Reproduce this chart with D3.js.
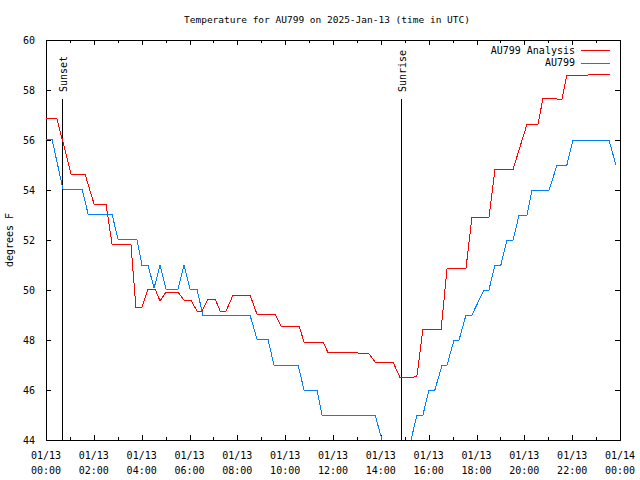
<!DOCTYPE html>
<html>
<head>
<meta charset="utf-8">
<script src="https://cdn.jsdelivr.net/npm/d3@7"></script>
<style>
  html, body { margin: 0; padding: 0; background: #fff; }
  svg { display: block; }
  text { font-family: "DejaVu Sans Mono", "Liberation Mono", monospace; font-size: 10px; fill: #000; }
</style>
</head>
<body>
<svg id="chart" width="640" height="480"></svg>
<script>
// ---- Data (hours since 2025-01-13 00:00 UTC, degrees F) ----
const analysisTimes = [0, 0.46, 1.05, 1.63, 2.01, 2.51, 2.76, 3.55, 3.76, 4.01, 4.26, 4.56, 4.77, 5.02, 5.52, 5.77,
  6.06, 6.31, 6.52, 6.77, 7.07, 7.28, 7.53, 7.82, 8.53, 8.82, 9.57, 9.83, 10.58, 10.79, 11.58, 11.79, 12.59,
  13.50, 13.76, 14.51, 14.80, 15.34, 15.51, 15.76, 16.52, 16.77, 17.56, 17.81, 18.52, 18.77, 19.53, 20.11,
  20.57, 20.78, 21.57, 21.78, 22.66, 23.58];
const analysisValues = [56.88, 56.84, 54.64, 54.64, 53.44, 53.44, 51.84, 51.84, 49.32, 49.32, 50.04, 50.04, 49.56, 49.92, 49.92, 49.6,
  49.6, 49.16, 49.16, 49.64, 49.64, 49.16, 49.16, 49.8, 49.8, 49.04, 49.04, 48.56, 48.56, 47.92, 47.92, 47.5, 47.5,
  47.46, 47.12, 47.12, 46.5, 46.5, 46.56, 48.43, 48.43, 50.87, 50.87, 52.9, 52.9, 54.83, 54.83, 56.63,
  56.63, 57.67, 57.63, 58.6, 58.6, 58.64];

const stationTimes = [0, 0.25, 0.71, 1.51, 1.76, 2.76, 3.01, 3.80, 4.01, 4.26, 4.52, 4.77, 5.02, 5.52, 5.77, 6.02,
  6.31, 6.56, 8.53, 8.82, 9.28, 9.53, 10.54, 10.79, 11.33, 11.54, 13.76, 14.05, 14.30, 15.01, 15.26, 15.51,
  15.76, 16.01, 16.26, 16.56, 16.77, 17.06, 17.27, 17.56, 17.81, 18.31, 18.52, 18.77, 19.02, 19.27, 19.53,
  19.78, 20.11, 20.32, 21.03, 21.37, 21.78, 22.03, 23.54, 23.83];
const stationValues = [56.03, 56.03, 54.04, 54.04, 53.04, 53.04, 52.03, 52.03, 51, 51, 50.08, 51, 50.04, 50.04, 51, 50.04,
  50.04, 49, 49, 48.04, 48.04, 47, 47, 46, 46, 45, 45, 44, 43, 43, 44, 45,
  45, 46, 46, 47, 47, 48, 48, 49, 49, 50, 50, 51, 51, 52, 52,
  53, 53, 54, 54, 55, 55, 56, 56, 55];

const seriesNames = ["AU799 Analysis", "AU799"];
const seriesColors = ["#ff0000", "#0080ff"];

const eventNames = ["Sunset", "Sunrise"];
const eventTimes = [0.71, 14.88];

const yTicks = [44, 46, 48, 50, 52, 54, 56, 58, 60];
const xTickHours = [0, 2, 4, 6, 8, 10, 12, 14, 16, 18, 20, 22, 24];
const xTickDates = ["01/13", "01/13", "01/13", "01/13", "01/13", "01/13", "01/13", "01/13", "01/13", "01/13", "01/13", "01/13", "01/14"];
const xTickTimes = ["00:00", "02:00", "04:00", "06:00", "08:00", "10:00", "12:00", "14:00", "16:00", "18:00", "20:00", "22:00", "00:00"];
const xMinorHours = d3.range(0, 25, 1);

const titleText = "Temperature for AU799 on 2025-Jan-13 (time in UTC)";
const yLabelText = "degrees F";

// ---- Layout ----
const L = 46, R = 620, T = 40, B = 440;
const svg = d3.select("#chart");
const x = d3.scaleLinear().domain([0, 24]).range([L, R]);
const y = d3.scaleLinear().domain([44, 60]).range([B, T]);

svg.append("defs").append("clipPath").attr("id", "plotclip")
  .append("rect").attr("x", L).attr("y", T).attr("width", R - L).attr("height", B - T);

// Title
svg.append("text").attr("x", 327).attr("y", 19).attr("text-anchor", "middle")
  .attr("dominant-baseline", "central").style("font-size", "9.5px").text(titleText);

// Y label
svg.append("text").attr("transform", "translate(9,240) rotate(-90)")
  .attr("text-anchor", "middle").attr("dominant-baseline", "central").text(yLabelText);

// Axes (ticks inward, mirrored)
const gAxes = svg.append("g").attr("shape-rendering", "crispEdges");
const leftAxis = d3.axisLeft(y).tickValues(yTicks).tickSize(-5).tickPadding(11).tickFormat(d3.format("d"));
const rightAxis = d3.axisRight(y).tickValues(yTicks).tickSize(-5).tickFormat("");
const bottomMinor = d3.axisBottom(x).tickValues(xMinorHours).tickSize(-3).tickFormat("");
const bottomMajor = d3.axisBottom(x).tickValues(xTickHours).tickSize(-5).tickFormat("");
const topMinor = d3.axisTop(x).tickValues(xMinorHours).tickSize(-3).tickFormat("");
const topMajor = d3.axisTop(x).tickValues(xTickHours).tickSize(-5).tickFormat("");

function styleAxis(g) {
  g.select(".domain").remove();
  g.selectAll(".tick line").attr("stroke", "#000");
  g.selectAll("text").attr("fill", "#000").style("font-family", "DejaVu Sans Mono, monospace").style("font-size", "10px");
}
gAxes.append("g").attr("transform", `translate(${L},0)`).call(leftAxis).call(styleAxis);
gAxes.append("g").attr("transform", `translate(${R},0)`).call(rightAxis).call(styleAxis);
gAxes.append("g").attr("transform", `translate(0,${B})`).call(bottomMinor).call(styleAxis);
gAxes.append("g").attr("transform", `translate(0,${B})`).call(bottomMajor).call(styleAxis);
gAxes.append("g").attr("transform", `translate(0,${T})`).call(topMinor).call(styleAxis);
gAxes.append("g").attr("transform", `translate(0,${T})`).call(topMajor).call(styleAxis);

// x tick labels (two lines)
const xl = svg.append("g");
xTickHours.forEach((h, i) => {
  xl.append("text").attr("x", x(h)).attr("y", 455).attr("text-anchor", "middle")
    .attr("dominant-baseline", "central").text(xTickDates[i]);
  xl.append("text").attr("x", x(h)).attr("y", 470).attr("text-anchor", "middle")
    .attr("dominant-baseline", "central").text(xTickTimes[i]);
});

// Frame
svg.append("rect").attr("x", L + 0.5).attr("y", T + 0.5).attr("width", R - L).attr("height", B - T)
  .attr("fill", "none").attr("stroke", "#000").attr("stroke-width", 1).attr("shape-rendering", "crispEdges");

// Sunset / Sunrise markers
const evTop = 57.64;
eventTimes.forEach((t, i) => {
  svg.append("line").attr("x1", x(t)).attr("x2", x(t)).attr("y1", y(evTop)).attr("y2", y(44))
    .attr("stroke", "#000").attr("stroke-width", 1).attr("shape-rendering", "crispEdges");
  svg.append("text").attr("transform", `translate(${x(t) + 1},${y(evTop) - 7}) rotate(-90)`)
    .attr("text-anchor", "start").attr("dominant-baseline", "central").text(eventNames[i]);
});

// Series lines
const line = d3.line().x(d => x(d[0])).y(d => y(d[1]));
const seriesData = [
  d3.zip(analysisTimes, analysisValues),
  d3.zip(stationTimes, stationValues)
];
const gLines = svg.append("g").attr("clip-path", "url(#plotclip)");
seriesData.forEach((data, i) => {
  gLines.append("path").datum(data).attr("d", line).attr("fill", "none")
    .attr("stroke", seriesColors[i]).attr("stroke-width", 1).attr("shape-rendering", "crispEdges");
});

// Legend
seriesNames.forEach((name, i) => {
  const ly = 50 + i * 12.5;
  svg.append("text").attr("x", 575).attr("y", ly).attr("text-anchor", "end")
    .attr("dominant-baseline", "central").text(name);
  svg.append("line").attr("x1", 581).attr("x2", 610).attr("y1", Math.round(ly) + 0.5).attr("y2", Math.round(ly) + 0.5)
    .attr("stroke", seriesColors[i]).attr("stroke-width", 1);
});
</script>
</body>
</html>
